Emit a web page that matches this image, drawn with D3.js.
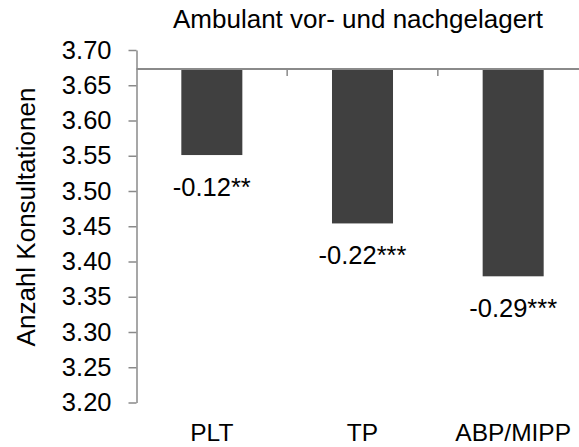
<!DOCTYPE html>
<html>
<head>
<meta charset="utf-8">
<script src="https://cdn.jsdelivr.net/npm/d3@7"></script>
<style>
  body { margin: 0; background: #fff; }
  text { font-family: "Liberation Sans", Arial, sans-serif; fill: #000; }
</style>
</head>
<body>
<div id="chart"></div>
<script>
const categories = ["PLT", "TP", "ABP/MIPP"];
const values = [3.551, 3.454, 3.379];
const baseValue = 3.673;
const valueLabels = ["-0.12**", "-0.22***", "-0.29***"];
const yTicks = [3.20, 3.25, 3.30, 3.35, 3.40, 3.45, 3.50, 3.55, 3.60, 3.65, 3.70];
const title = "Ambulant vor- und nachgelagert";
const yTitle = "Anzahl Konsultationen";

function drawChart() {
    // set the dimensions of the graph
    const width = 579, height = 447;
    const left = 136.5, right = 588.5, top = 50, bottom = 402.5;

    const svg = d3.select("#chart")
        .append("svg")
        .attr("width", width)
        .attr("height", height);

    const x = d3.scaleBand()
        .domain(categories)
        .range([left, right])
        .padding(0);

    const y = d3.scaleLinear()
        .domain([3.20, 3.70])
        .range([bottom, top]);

    const barW = x.bandwidth() * 0.405;

    // bars hang down from the base value
    svg.selectAll(".bar")
        .data(values)
        .join("rect")
        .attr("class", "bar")
        .attr("x", (d, i) => x(categories[i]) + (x.bandwidth() - barW) / 2)
        .attr("y", y(baseValue))
        .attr("width", barW)
        .attr("height", d => y(d) - y(baseValue))
        .attr("fill", "#404040");

    // Y axis
    const yAxis = svg.append("g")
        .attr("transform", `translate(${left},0)`)
        .call(d3.axisLeft(y).tickValues(yTicks).tickFormat(d3.format(".2f"))
            .tickSizeInner(8).tickSizeOuter(0).tickPadding(17));
    yAxis.select(".domain").attr("stroke", "#8a8a8a").attr("stroke-width", 1.5);
    yAxis.selectAll(".tick line").attr("stroke", "#8a8a8a").attr("stroke-width", 1.5);
    yAxis.selectAll(".tick text")
        .style("font-size", "25.5px")
        .style("font-family", "Liberation Sans, Arial, sans-serif")
        .attr("fill", "#000");

    // category axis at the base value, ticks on band boundaries
    const xAxis = svg.append("g")
        .attr("transform", `translate(0,${y(baseValue)})`);
    xAxis.append("line")
        .attr("x1", left).attr("x2", right)
        .attr("stroke", "#8a8a8a").attr("stroke-width", 2);
    xAxis.selectAll(".sep")
        .data(categories.slice(1))
        .join("line")
        .attr("x1", d => x(d)).attr("x2", d => x(d))
        .attr("y1", 0).attr("y2", 7)
        .attr("stroke", "#8a8a8a").attr("stroke-width", 1.5);

    // category labels under the plot
    svg.selectAll(".cat")
        .data(categories)
        .join("text")
        .attr("class", "cat")
        .attr("x", d => x(d) + x.bandwidth() / 2)
        .attr("y", 441)
        .attr("text-anchor", "middle")
        .style("font-size", "24.5px")
        .text(d => d);

    // value labels below the bars
    svg.selectAll(".val")
        .data(values)
        .join("text")
        .attr("class", "val")
        .attr("x", (d, i) => x(categories[i]) + x.bandwidth() / 2)
        .attr("y", d => y(d) + 41)
        .attr("text-anchor", "middle")
        .style("font-size", "25.5px")
        .text((d, i) => valueLabels[i]);

    // title
    svg.append("text")
        .attr("x", 358)
        .attr("y", 28)
        .attr("text-anchor", "middle")
        .style("font-size", "26px")
        .text(title);

    // y axis title
    svg.append("text")
        .attr("transform", `translate(35,217) rotate(-90)`)
        .attr("text-anchor", "middle")
        .style("font-size", "26px")
        .text(yTitle);
}

drawChart();
</script>
</body>
</html>
